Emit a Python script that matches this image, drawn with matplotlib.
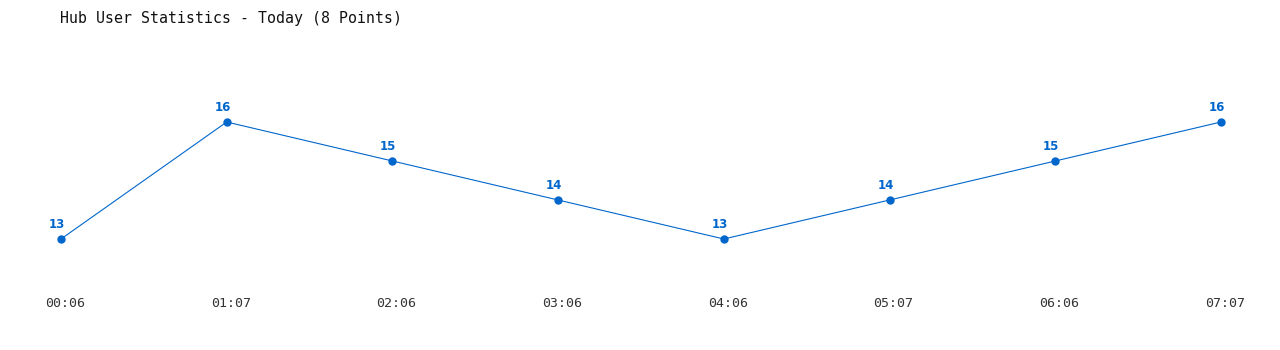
import matplotlib
matplotlib.use('Agg')
import matplotlib.pyplot as plt
from matplotlib.transforms import ScaledTranslation

times = ['00:06', '01:07', '02:06', '03:06', '04:06', '05:07', '06:06', '07:07']
users = [13, 16, 15, 14, 13, 14, 15, 16]

BLUE = '#0066cc'

fig = plt.figure(figsize=(12.8, 3.5), dpi=100)
# axes placed so that points land where the reference has them
ax = fig.add_axes([61 / 1280, 1 - 239 / 350, (1221 - 61) / 1280, (239 - 122) / 350])
ax.set_xlim(0, len(times) - 1)
ax.set_ylim(13, 16)

x = list(range(len(times)))
ax.plot(x, users, color=BLUE, linewidth=0.8, marker='o', markersize=5,
        clip_on=False)

for xi, v in zip(x, users):
    ax.annotate(str(v), (xi, v), xytext=(-3, 6), textcoords='offset points',
                ha='center', va='bottom', color=BLUE, fontsize=8.5,
                fontweight='bold', family='DejaVu Sans')

ax.set_xticks(x)
ax.set_xticklabels(times, family='DejaVu Sans Mono', fontsize=9.5, color='#333333')
ax.tick_params(axis='x', length=0, pad=42)
# labels sit a few pixels right of the points in the original
shift = ScaledTranslation(4 / 100, 0, fig.dpi_scale_trans)
for lbl in ax.get_xticklabels():
    lbl.set_transform(lbl.get_transform() + shift)
ax.set_yticks([])
for s in ax.spines.values():
    s.set_visible(False)

fig.text(60 / 1280, 1 - 18 / 350, 'Hub User Statistics - Today (8 Points)',
         family='DejaVu Sans Mono', fontsize=10.7,
         color='#111111', ha='left', va='center')

fig.savefig('out.png', dpi=100)
